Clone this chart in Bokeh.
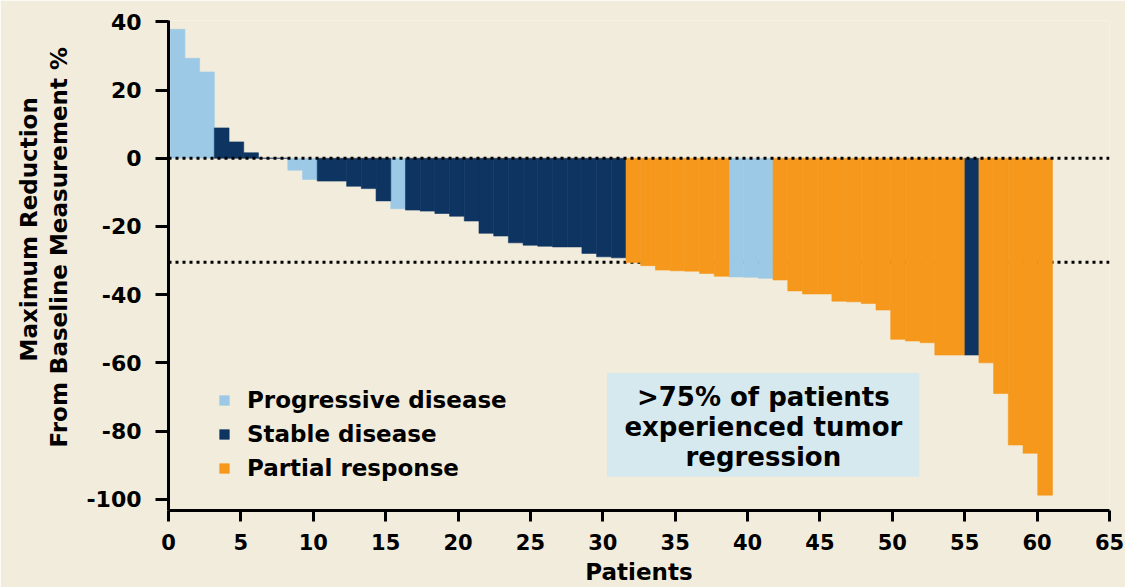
from bokeh.plotting import figure
from bokeh.models import (Range1d, Span, Label, Legend, LegendItem, Title,
                          BoxAnnotation, ColumnDataSource, FixedTicker)
from bokeh.embed import file_html
from bokeh.resources import INLINE

# ---------------- data ----------------
patients = list(range(1, 61))
reduction = [37.8, 29.3, 25.3, 8.9, 4.8, 1.6, 0.0, 0.0, -3.5, -6.2,
             -6.7, -6.7, -8.2, -8.9, -12.5, -14.8, -15.2, -15.5, -16.2, -17.0,
             -18.4, -22.0, -22.8, -24.8, -25.5, -25.8, -26.0, -26.0, -27.9, -28.9,
             -29.2, -30.6, -31.5, -32.8, -33.0, -33.1, -33.8, -34.6, -34.8, -34.9,
             -35.2, -35.7, -38.9, -39.8, -39.8, -41.9, -42.1, -42.6, -44.5, -53.1,
             -53.6, -54.1, -57.7, -57.7, -57.7, -60.0, -69.0, -84.1, -86.5, -98.8]
response = (["PD"] * 3 + ["SD"] * 5 + ["PD"] * 2 + ["SD"] * 5 + ["PD"] + ["SD"] * 15
            + ["PR"] * 7 + ["PD"] * 3 + ["PR"] * 13 + ["SD"] + ["PR"] * 5)
category_codes = ["PD", "SD", "PR"]
category_labels = ["Progressive disease", "Stable disease", "Partial response"]
category_colors = ["#9CCAE6", "#0E3461", "#F5981B"]
x_ticks = list(range(0, 70, 5))
y_ticks = [40, 20, 0, -20, -40, -60, -80, -100]
y_tick_labels = {v: str(v) for v in y_ticks}
zero_line = 0
threshold_line = -30.5
annotation_lines = [">75% of patients", "experienced tumor", "regression"]
y_title_lines = ["Maximum Reduction", "From Baseline Measurement %"]
x_title = "Patients"

BG = "#F2ECDC"
FONT = "DejaVu Sans"

p = figure(width=1125, height=587, output_backend="svg", toolbar_location=None,
           x_range=Range1d(0, 65), y_range=Range1d(-103.3, 40.4),
           min_border_left=168, min_border_right=16, min_border_top=20,
           min_border_bottom=76,
           background_fill_color=BG, border_fill_color=BG,
           outline_line_color=None)
p.extra_x_ranges = {"bars": Range1d(-0.116, 63.88)}
p.grid.visible = False

# threshold line (behind bars)
p.add_layout(Span(location=threshold_line, dimension="width", line_color="black",
                  line_width=3, line_dash="3 4", level="underlay"))

renderers = []
for code, lab, col in zip(category_codes, category_labels, category_colors):
    xs = [pt - 0.5 for pt, r in zip(patients, response) if r == code]
    ys = [v for v, r in zip(reduction, response) if r == code]
    src = ColumnDataSource(dict(x=xs, top=ys))
    r = p.vbar(x="x", top="top", bottom=0, width=1, source=src,
               fill_color=col, line_color=col, line_width=0.6,
               x_range_name="bars")
    renderers.append((lab, r))

# zero line on top
p.add_layout(Span(location=zero_line, dimension="width", line_color="black",
                  line_width=3, line_dash="3 4"))

# axes
for ax in (p.xaxis[0], p.yaxis[0]):
    ax.axis_line_width = 3
    ax.axis_line_color = "black"
    ax.major_tick_line_width = 3
    ax.major_tick_line_color = "black"
    ax.major_tick_in = 0
    ax.minor_tick_line_color = None
    ax.major_label_text_font = FONT
    ax.major_label_text_font_style = "bold"
    ax.major_label_text_color = "black"

xa = p.xaxis[0]
xa.ticker = FixedTicker(ticks=x_ticks)
xa.major_label_text_font_size = "21px"
xa.major_tick_out = 11
xa.major_label_standoff = 12
xa.axis_label = x_title
xa.axis_label_standoff = 6
xa.axis_label_text_font = FONT
xa.axis_label_text_font_style = "bold"
xa.axis_label_text_font_size = "23px"
xa.axis_label_text_color = "black"

ya = p.yaxis[0]
ya.ticker = FixedTicker(ticks=y_ticks)
ya.major_label_overrides = y_tick_labels
ya.major_label_text_font_size = "22px"
ya.major_tick_out = 13
ya.major_label_standoff = 14

# y titles (two lines, placed on the left)
p.add_layout(Title(text=y_title_lines[1], align="left", offset=63, standoff=24,
                   text_font=FONT, text_font_style="bold", text_font_size="23px",
                   text_color="black"), "left")
p.add_layout(Title(text=y_title_lines[0], align="left", offset=149, standoff=-20,
                   text_font=FONT, text_font_style="bold", text_font_size="23px",
                   text_color="black"), "left")

# legend
legend = Legend(items=[LegendItem(label=l, renderers=[r]) for l, r in renderers],
                location=(50, 25), orientation="vertical",
                glyph_width=12, glyph_height=12, label_standoff=17,
                label_height=34, spacing=0, padding=0, margin=0,
                background_fill_alpha=0, border_line_color=None,
                label_text_font=FONT, label_text_font_style="bold",
                label_text_font_size="23px", label_text_color="black")
p.add_layout(legend)

# annotation box
p.add_layout(BoxAnnotation(left=30.29, right=51.86, top=-63.0, bottom=-93.4,
                           fill_color="#D6E9EF", fill_alpha=1, line_color=None,
                           level="annotation"))
p.add_layout(Label(x=41.09, y=-78.8, text="\n".join(annotation_lines),
                   text_align="center", text_baseline="middle",
                   text_font=FONT, text_font_style="bold", text_font_size="26px",
                   text_line_height=1.0, text_color="black"))

open("out.html", "w").write(file_html(p, INLINE))
